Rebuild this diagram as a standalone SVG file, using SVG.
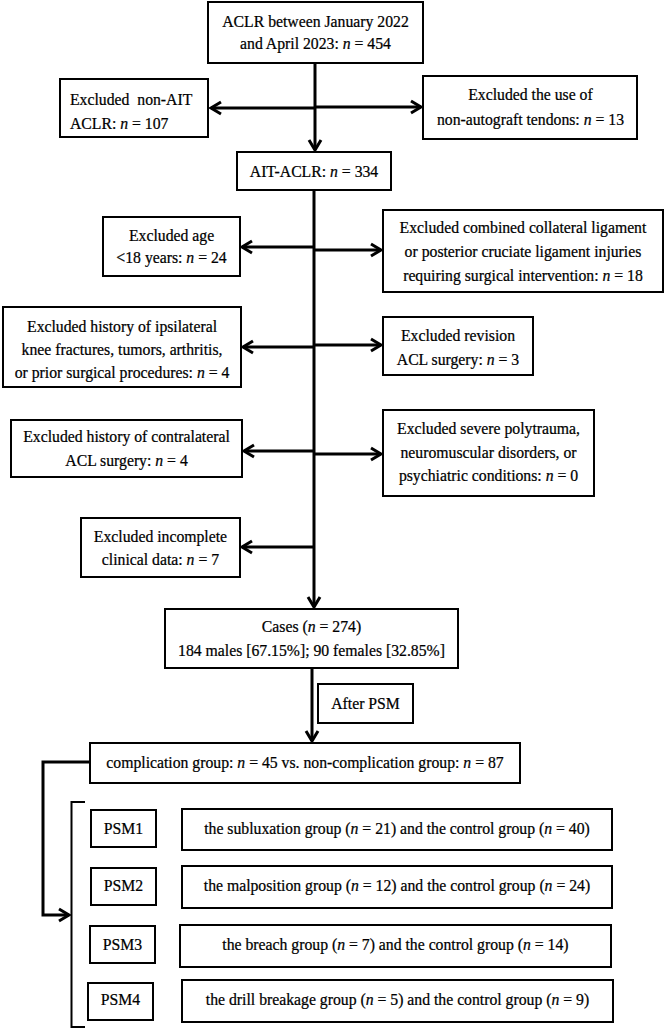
<svg xmlns="http://www.w3.org/2000/svg" width="666" height="1030" viewBox="0 0 666 1030">
<defs>
<style>
.box{fill:#fff;stroke:#000;stroke-width:2}
.ln{fill:none;stroke:#000;stroke-width:3}
.br{fill:none;stroke:#000;stroke-width:2}
text{font-family:"Liberation Serif","Times New Roman",serif;font-size:17.5px;fill:#000;stroke:#000;stroke-width:0.25;text-anchor:middle}
.st{text-anchor:start}
</style>
<marker id="ah" markerUnits="userSpaceOnUse" markerWidth="16" markerHeight="16" viewBox="-2 -2 16 16" refX="10" refY="6" orient="auto">
<path d="M0,0 L10,6 L0,12" fill="none" stroke="#000" stroke-width="3"/>
</marker>
</defs>
<rect width="666" height="1030" fill="#fff"/>

<g id="connectors">
<line class="ln" x1="315" y1="63" x2="315" y2="150" marker-end="url(#ah)"/>
<line class="ln" x1="315" y1="108" x2="211" y2="108" marker-end="url(#ah)"/>
<line class="ln" x1="315" y1="107" x2="421" y2="107" marker-end="url(#ah)"/>
<line class="ln" x1="314" y1="190" x2="314" y2="607" marker-end="url(#ah)"/>
<line class="ln" x1="314" y1="247" x2="242" y2="247" marker-end="url(#ah)"/>
<line class="ln" x1="314" y1="250" x2="381" y2="250" marker-end="url(#ah)"/>
<line class="ln" x1="314" y1="347" x2="243" y2="347" marker-end="url(#ah)"/>
<line class="ln" x1="314" y1="345" x2="381" y2="345" marker-end="url(#ah)"/>
<line class="ln" x1="314" y1="451" x2="244" y2="451" marker-end="url(#ah)"/>
<line class="ln" x1="314" y1="454" x2="381" y2="454" marker-end="url(#ah)"/>
<line class="ln" x1="314" y1="547" x2="242" y2="547" marker-end="url(#ah)"/>
<line class="ln" x1="312" y1="668" x2="312" y2="741" marker-end="url(#ah)"/>
<polyline class="ln" points="90,762 43,762 43,915 69,915" marker-end="url(#ah)"/>
<polyline class="br" points="85,802 71.5,802 71.5,1027 85,1027"/>
</g>

<g id="n-start">
<rect class="box" x="208" y="2" width="215" height="61"/>
<text x="350.6" y="27" transform="scale(0.9 1)">ACLR between January 2022</text>
<text x="350.6" y="49" transform="scale(0.9 1)">and April 2023: <tspan font-style="italic">n</tspan> = 454</text>
</g>

<g id="n-ex-nonait">
<rect class="box" x="60" y="79" width="148" height="58"/>
<text class="st" x="77.8" y="105" transform="scale(0.9 1)" xml:space="preserve">Excluded  non-AIT</text>
<text class="st" x="77.8" y="129" transform="scale(0.9 1)">ACLR: <tspan font-style="italic">n</tspan> = 107</text>
</g>

<g id="n-ex-allograft">
<rect class="box" x="423" y="76" width="214" height="63"/>
<text x="589.4" y="100" transform="scale(0.9 1)">Excluded the use of</text>
<text x="589.4" y="125" transform="scale(0.9 1)">non-autograft tendons: <tspan font-style="italic">n</tspan> = 13</text>
</g>

<g id="n-ait">
<rect class="box" x="237" y="152" width="154" height="38"/>
<text x="348.9" y="177" transform="scale(0.9 1)">AIT-ACLR: <tspan font-style="italic">n</tspan> = 334</text>
</g>

<g id="n-ex-age">
<rect class="box" x="103" y="217" width="137" height="59"/>
<text x="190.6" y="241" transform="scale(0.9 1)">Excluded age</text>
<text x="190.6" y="263" transform="scale(0.9 1)">&lt;18 years: <tspan font-style="italic">n</tspan> = 24</text>
</g>

<g id="n-ex-ligament">
<rect class="box" x="383" y="210" width="280" height="82"/>
<text x="581.1" y="233" transform="scale(0.9 1)">Excluded combined collateral ligament</text>
<text x="581.1" y="257" transform="scale(0.9 1)">or posterior cruciate ligament injuries</text>
<text x="581.1" y="281" transform="scale(0.9 1)">requiring surgical intervention: <tspan font-style="italic">n</tspan> = 18</text>
</g>

<g id="n-ex-ipsi">
<rect class="box" x="3" y="307" width="238" height="80"/>
<text x="135.6" y="332" transform="scale(0.9 1)">Excluded history of ipsilateral</text>
<text x="135.6" y="355" transform="scale(0.9 1)">knee fractures, tumors, arthritis,</text>
<text x="135.6" y="378" transform="scale(0.9 1)">or prior surgical procedures: <tspan font-style="italic">n</tspan> = 4</text>
</g>

<g id="n-ex-revision">
<rect class="box" x="383" y="317" width="150" height="58"/>
<text x="508.9" y="341" transform="scale(0.9 1)">Excluded revision</text>
<text x="508.9" y="365" transform="scale(0.9 1)">ACL surgery: <tspan font-style="italic">n</tspan> = 3</text>
</g>

<g id="n-ex-contra">
<rect class="box" x="11" y="420" width="231" height="57"/>
<text x="140.6" y="442" transform="scale(0.9 1)">Excluded history of contralateral</text>
<text x="140.6" y="466" transform="scale(0.9 1)">ACL surgery: <tspan font-style="italic">n</tspan> = 4</text>
</g>

<g id="n-ex-poly">
<rect class="box" x="383" y="410" width="211" height="86"/>
<text x="542.8" y="434" transform="scale(0.9 1)">Excluded severe polytrauma,</text>
<text x="542.8" y="458" transform="scale(0.9 1)">neuromuscular disorders, or</text>
<text x="542.8" y="481" transform="scale(0.9 1)">psychiatric conditions: <tspan font-style="italic">n</tspan> = 0</text>
</g>

<g id="n-ex-incomplete">
<rect class="box" x="81" y="518" width="159" height="59"/>
<text x="178.3" y="542" transform="scale(0.9 1)">Excluded incomplete</text>
<text x="178.3" y="565" transform="scale(0.9 1)">clinical data: <tspan font-style="italic">n</tspan> = 7</text>
</g>

<g id="n-cases">
<rect class="box" x="165" y="609" width="293" height="59"/>
<text x="346.1" y="632" transform="scale(0.9 1)">Cases (<tspan font-style="italic">n</tspan> = 274)</text>
<text x="346.1" y="656" transform="scale(0.9 1)">184 males [67.15%]; 90 females [32.85%]</text>
</g>

<g id="n-afterpsm">
<rect class="box" x="318" y="684" width="95" height="39"/>
<text x="406.1" y="709" transform="scale(0.9 1)">After PSM</text>
</g>

<g id="n-complication">
<rect class="box" x="90" y="743" width="430" height="40"/>
<text x="338.9" y="768" transform="scale(0.9 1)">complication group: <tspan font-style="italic">n</tspan> = 45 vs. non-complication group: <tspan font-style="italic">n</tspan> = 87</text>
</g>

<g id="n-psm1">
<rect class="box" x="91" y="810" width="65" height="37"/>
<text x="137.2" y="834" transform="scale(0.9 1)">PSM1</text>
<rect class="box" x="182" y="809" width="430" height="41"/>
<text x="441.1" y="834" transform="scale(0.9 1)">the subluxation group (<tspan font-style="italic">n</tspan> = 21) and the control group (<tspan font-style="italic">n</tspan> = 40)</text>
</g>

<g id="n-psm2">
<rect class="box" x="91" y="868" width="65" height="37"/>
<text x="137.2" y="891" transform="scale(0.9 1)">PSM2</text>
<rect class="box" x="182" y="866" width="430" height="42"/>
<text x="441.1" y="891" transform="scale(0.9 1)">the malposition group (<tspan font-style="italic">n</tspan> = 12) and the control group (<tspan font-style="italic">n</tspan> = 24)</text>
</g>

<g id="n-psm3">
<rect class="box" x="90" y="926" width="65" height="37"/>
<text x="136.1" y="950" transform="scale(0.9 1)">PSM3</text>
<rect class="box" x="180" y="925" width="431" height="42"/>
<text x="439.4" y="950" transform="scale(0.9 1)">the breach group (<tspan font-style="italic">n</tspan> = 7) and the control group (<tspan font-style="italic">n</tspan> = 14)</text>
</g>

<g id="n-psm4">
<rect class="box" x="88" y="983" width="65" height="37"/>
<text x="133.9" y="1005" transform="scale(0.9 1)">PSM4</text>
<rect class="box" x="182" y="980" width="431" height="42"/>
<text x="441.7" y="1005" transform="scale(0.9 1)">the drill breakage group (<tspan font-style="italic">n</tspan> = 5) and the control group (<tspan font-style="italic">n</tspan> = 9)</text>
</g>
</svg>
